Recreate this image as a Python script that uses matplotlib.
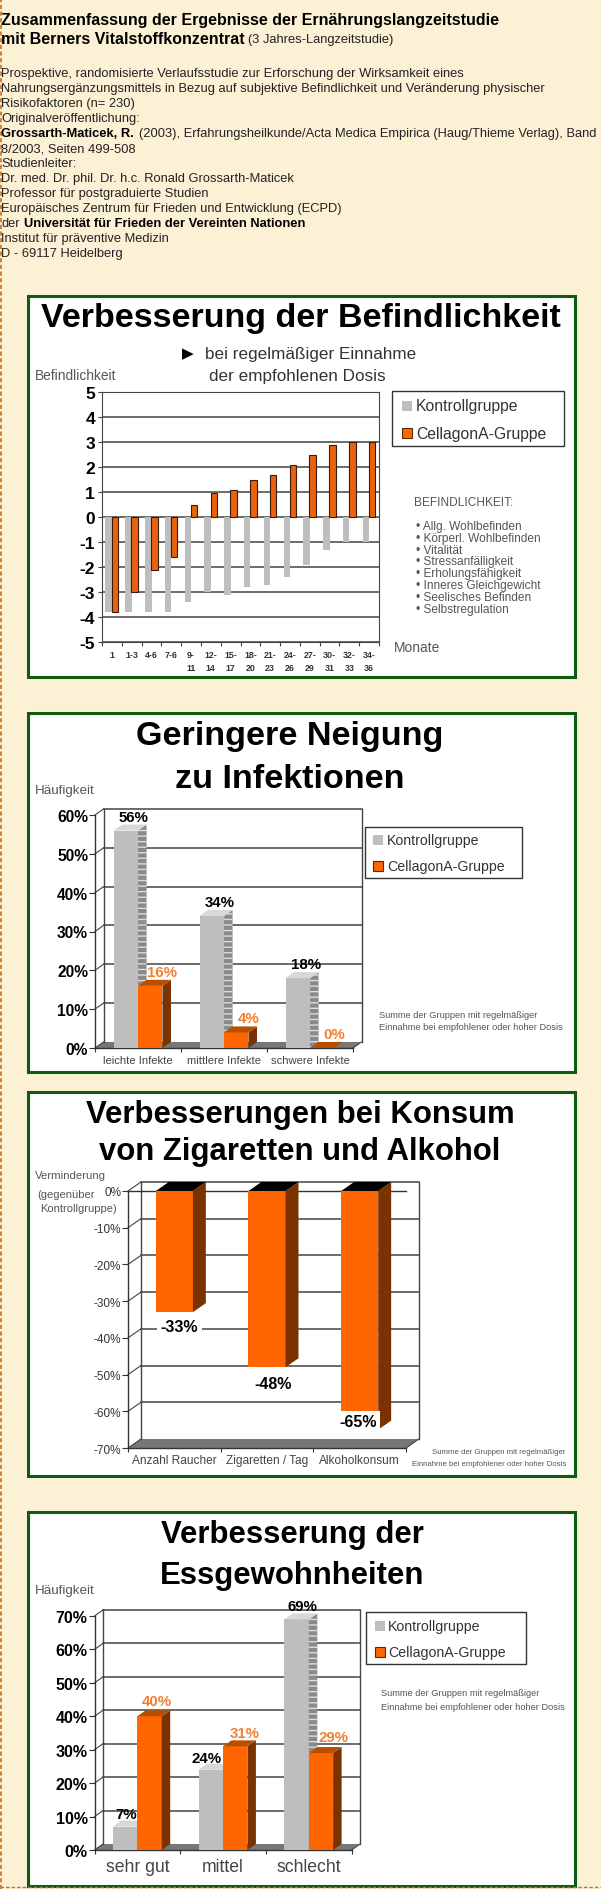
import matplotlib
matplotlib.use("Agg")
import matplotlib.pyplot as plt
from matplotlib.patches import Rectangle

plt.rcParams["font.family"] = ["Liberation Sans", "DejaVu Sans"]

W, H = 601, 1890
BG = "#FDF1D5"
GREEN = "#0E5C12"
ORANGE = "#FF6600"
ORANGE_SIDE = "#7A3300"
ORANGE_TOP = "#B84F00"
ORANGE_TXT = "#F08030"
GRAY = "#BEBEBE"
GRAY_SIDE = "#8A8A8A"
GRAY_TOP = "#D8D8D8"
LINE = "#444444"
NOTE = "#555555"

# chart 1
months = ["1", "1-3", "4-6", "7-6", "9-\n11", "12-\n14", "15-\n17", "18-\n20", "21-\n23", "24-\n26", "27-\n29", "30-\n31", "32-\n33", "34-\n36"]
befind_kontroll = [-3.8, -3.8, -3.8, -3.8, -3.4, -3.0, -3.1, -2.8, -2.7, -2.4, -1.9, -1.3, -1.0, -1.0]
befind_cellagon = [-3.8, -3.0, -2.1, -1.6, 0.5, 0.95, 1.1, 1.5, 1.7, 2.1, 2.5, 2.9, 3.0, 3.0]
befind_ticks = [-5, -4, -3, -2, -1, 0, 1, 2, 3, 4, 5]
befind_items = ["Allg. Wohlbefinden", "Körperl. Wohlbefinden", "Vitalität", "Stressanfälligkeit", "Erholungsfähigkeit", "Inneres Gleichgewicht", "Seelisches Befinden", "Selbstregulation"]

# chart 2
infekt_labels = ["leichte Infekte", "mittlere Infekte", "schwere Infekte"]
infekt_kontroll = [56, 34, 18]
infekt_cellagon = [16, 4, 0]
infekt_ticks = [0, 10, 20, 30, 40, 50, 60]

# chart 3
konsum_labels = ["Anzahl Raucher", "Zigaretten / Tag", "Alkoholkonsum"]
konsum_cellagon = [-33, -48, -65]
konsum_ticks = [0, -10, -20, -30, -40, -50, -60, -70]

# chart 4
ess_labels = ["sehr gut", "mittel", "schlecht"]
ess_kontroll = [7, 24, 69]
ess_cellagon = [40, 31, 29]
ess_ticks = [0, 10, 20, 30, 40, 50, 60, 70]

# page text
head1 = "Zusammenfassung der Ergebnisse der Ernährungslangzeitstudie"
head2 = "mit Berners Vitalstoffkonzentrat"
head2b = "(3 Jahres-Langzeitstudie)"
body_lines = [
    "Prospektive, randomisierte Verlaufsstudie zur Erforschung der Wirksamkeit eines",
    "Nahrungsergänzungsmittels in Bezug auf subjektive Befindlichkeit und Veränderung physischer",
    "Risikofaktoren (n= 230)",
    "Originalveröffentlichung:",
    "",
    "8/2003, Seiten 499-508",
    "Studienleiter:",
    "Dr. med. Dr. phil. Dr. h.c. Ronald Grossarth-Maticek",
    "Professor für postgraduierte Studien",
    "Europäisches Zentrum für Frieden und Entwicklung (ECPD)",
    "",
    "Institut für präventive Medizin",
    "D - 69117 Heidelberg",
]

fig = plt.figure(figsize=(W / 100, H / 100), dpi=100, facecolor=BG)
page = fig.add_axes([0, 0, 1, 1])
page.set_xlim(0, W)
page.set_ylim(H, 0)
page.axis("off")


def px_axes(x0, y0, x1, y1):
    ax = fig.add_axes([x0 / W, 1 - y1 / H, (x1 - x0) / W, (y1 - y0) / H])
    ax.patch.set_alpha(0)
    return ax


def txt(x, y, s, size, color="black", weight="normal", ha="left"):
    page.text(x, y, s, fontsize=size, color=color, fontweight=weight, ha=ha, va="center")


def panel(y0, y1):
    page.add_patch(Rectangle((28, y0), 547, y1 - y0, fc="white", ec=GREEN, lw=2.2))


def legend_box(x0, y0, x1, y1, px, tx, y_a, y_b, size):
    page.add_patch(Rectangle((x0, y0), x1 - x0, y1 - y0, fc="white", ec="#333333", lw=1))
    page.add_patch(Rectangle((px, y_a - 5), 10, 10, fc=GRAY, ec="none"))
    page.add_patch(Rectangle((px, y_b - 5), 10, 10, fc=ORANGE, ec="#5a2a00", lw=0.8))
    txt(tx, y_a, "Kontrollgruppe", size, "#333333")
    txt(tx, y_b, "CellagonA-Gruppe", size, "#333333")


def walls(ax, ticks, n, dx, dy):
    low = min(ticks)
    high = max(ticks)
    ax.fill([0, n, n + dx, dx], [low, low, low + dy, low + dy], color="#777777", lw=0, clip_on=False, zorder=1)
    for t in ticks:
        if t != low:
            ax.plot([dx, n + dx], [t + dy, t + dy], color=LINE, lw=1.1, clip_on=False, zorder=1)
        ax.plot([0, dx], [t, t + dy], color=LINE, lw=0.8, clip_on=False, zorder=1)
    ax.plot([dx, dx], [low + dy, high + dy], color=LINE, lw=1, clip_on=False, zorder=1)
    ax.plot([n + dx, n + dx], [low + dy, high + dy], color=LINE, lw=1, clip_on=False, zorder=1)
    ax.plot([n, n + dx], [low, low + dy], color=LINE, lw=0.8, clip_on=False, zorder=1)


def bar3d(ax, x, w, v, face, side, top, dx, dy, z, hatch=None):
    ax.bar(x, v, w, color=face, lw=0, zorder=z, clip_on=False)
    r = x + w / 2
    ax.fill([r, r + dx, r + dx, r], [0, dy, v + dy, v], facecolor=side, edgecolor="#dddddd" if hatch else "none", hatch=hatch, lw=0, zorder=z, clip_on=False)
    # the cap sits on the upper end, which is the baseline for bars hanging down
    y = max(v, 0)
    ax.fill([x - w / 2, r, r + dx, x - w / 2 + dx], [y, y, y + dy, y + dy], color=top, lw=0, zorder=z, clip_on=False)


def style_front(ax, n, ticks, labels, ysize, xsize, ytick_fmt="{}%", yweight="bold", ycolor="black", xcolor="#444444", xpad=3):
    ax.set_xlim(0, n)
    ax.set_ylim(min(ticks), max(ticks))
    for s in ["top", "right"]:
        ax.spines[s].set_visible(False)
    for s in ["left", "bottom"]:
        ax.spines[s].set_color("#333333")
        ax.spines[s].set_linewidth(1)
    ax.set_xticks(range(n + 1))
    ax.set_xticklabels([])
    ax.set_xticks([i + 0.5 for i in range(n)], minor=True)
    ax.set_xticklabels(labels, minor=True, fontsize=xsize, color=xcolor)
    ax.tick_params(axis="x", which="minor", length=0, pad=xpad)
    ax.tick_params(axis="x", which="major", length=3, color="#333333")
    ax.set_yticks(ticks)
    ax.set_yticklabels([ytick_fmt.format(t) for t in ticks], fontsize=ysize, fontweight=yweight, color=ycolor)
    ax.tick_params(axis="y", length=4, pad=1, color="#333333")


def value_label(ax, x, v, s, off, size, color):
    ax.annotate(s, (x, v), xytext=off, textcoords="offset pixels", ha="center", va="center",
                fontsize=size, fontweight="bold", color=color, zorder=10, annotation_clip=False)


# page header
page.axvline(0.6, color="#C8701A", lw=1.2, ls=(0, (2.5, 1.5)))
page.plot([0, W], [1888, 1888], color="#C8701A", lw=1, ls=(0, (2.5, 1.5)))
HEAD = 11.5
BODY = 9.3
txt(1, 21, head1, HEAD, weight="bold")
txt(1, 39, head2, HEAD, weight="bold")
txt(248, 40, head2b, BODY, "#222222")
for i, line in enumerate(body_lines):
    if line:
        txt(1, 74 + i * 15, line, BODY, "#222222")
txt(1, 134, "Grossarth-Maticek, R.", BODY, weight="bold")
txt(139, 134, "(2003), Erfahrungsheilkunde/Acta Medica Empirica (Haug/Thieme Verlag), Band", BODY, "#222222")
txt(1, 224, "der", BODY, "#222222")
txt(24, 224, "Universität für Frieden der Vereinten Nationen", BODY, weight="bold")

# chart 1
panel(297, 678)
txt(301, 319, "Verbesserung der Befindlichkeit", 24.5, weight="bold", ha="center")
page.text(188, 354, "▶", fontsize=11, family="DejaVu Sans", ha="center", va="center")
txt(205, 355, "bei regelmäßiger Einnahme", 12.3, "#333333")
txt(209, 377, "der empfohlenen Dosis", 12.3, "#333333")
txt(35, 376, "Befindlichkeit", 9.9, NOTE)
legend_box(392, 392, 564, 447, 402, 416, 407, 434, 11.3)
txt(414, 503, "BEFINDLICHKEIT:", 8.6, NOTE)
for i, item in enumerate(befind_items):
    txt(416, 527 + i * 11.8, "• " + item, 8.6, NOTE)
txt(394, 648, "Monate", 9.9, NOTE)

ax1 = px_axes(102, 393, 379, 643)
ax1.set_axisbelow(True)
ax1.yaxis.grid(True, color=LINE, lw=1.1)
pos = list(range(len(months)))
ax1.bar([p + 0.34 for p in pos], befind_kontroll, 0.33, color=GRAY, lw=0, zorder=2)
ax1.bar([p + 0.65 for p in pos], befind_cellagon, 0.33, color="#E8620F", edgecolor="#3A1C08", lw=0.8, zorder=3)
ax1.set_xlim(0, 14)
ax1.set_ylim(-5, 5)
for s in ax1.spines.values():
    s.set_color(LINE)
ax1.set_xticks(range(15))
ax1.set_xticklabels([])
ax1.set_xticks([p + 0.5 for p in pos], minor=True)
ax1.set_xticklabels(months, minor=True, fontsize=6.4, fontweight="bold", color="#333333", linespacing=1.55)
ax1.tick_params(axis="x", which="minor", length=0, pad=6)
ax1.tick_params(axis="x", which="major", length=3, color=LINE)
ax1.set_yticks(befind_ticks)
ax1.set_yticklabels(befind_ticks, fontsize=12.5, fontweight="bold")
ax1.tick_params(axis="y", length=3, pad=2, color=LINE)

# chart 2
panel(714, 1073)
txt(290, 737, "Geringere Neigung", 24.6, weight="bold", ha="center")
txt(290, 779, "zu Infektionen", 24.6, weight="bold", ha="center")
txt(35, 791, "Häufigkeit", 9.6, NOTE)
legend_box(365, 828, 522, 879, 373, 387, 841, 867, 10.2)
txt(379, 1016, "Summe der Gruppen mit regelmäßiger", 6.7, NOTE)
txt(379, 1028, "Einnahme bei empfohlener oder hoher Dosis", 6.7, NOTE)

ax2 = px_axes(95, 816, 353, 1049)
style_front(ax2, 3, infekt_ticks, infekt_labels, 11.2, 8.1, xpad=5)
walls(ax2, infekt_ticks, 3, 0.099, 1.55)
for i in range(3):
    c = i + 0.5
    bar3d(ax2, c - 0.142, 0.285, infekt_kontroll[i], GRAY, GRAY_SIDE, GRAY_TOP, 0.099, 1.55, 3, hatch="---")
    bar3d(ax2, c + 0.142, 0.285, infekt_cellagon[i], ORANGE, ORANGE_SIDE, ORANGE_TOP, 0.099, 1.55, 4)
    value_label(ax2, c - 0.142, infekt_kontroll[i], f"{infekt_kontroll[i]}%", (8, 14), 10.8, "black")
    value_label(ax2, c + 0.142, infekt_cellagon[i], f"{infekt_cellagon[i]}%", (12, 14), 10.8, ORANGE_TXT)

# chart 3
panel(1093, 1477)
txt(300, 1115, "Verbesserungen bei Konsum", 22.4, weight="bold", ha="center")
txt(300, 1152, "von Zigaretten und Alkohol", 22.4, weight="bold", ha="center")
txt(35, 1176, "Verminderung", 8.2, NOTE)
txt(37, 1195, "(gegenüber", 8, NOTE)
txt(40, 1209, "Kontrollgruppe)", 8, NOTE)
txt(566, 1453, "Summe der Gruppen mit regelmäßiger", 5.6, NOTE, ha="right")
txt(566, 1464, "Einnahme bei empfohlener oder hoher Dosis", 5.6, NOTE, ha="right")

ax3 = px_axes(128, 1192, 406, 1449)
style_front(ax3, 3, konsum_ticks, konsum_labels, 8.5, 8.6, yweight="normal", ycolor="#333333", xpad=4)
walls(ax3, konsum_ticks, 3, 0.14, 2.45)
ax3.plot([0, 3], [0, 0], color="#333333", lw=1, zorder=2, clip_on=False)
konsum_off = [(5, -14), (6, -16), (-2, 8)]
for i in range(3):
    c = i + 0.5
    bar3d(ax3, c, 0.4, konsum_cellagon[i], ORANGE, ORANGE_SIDE, "black", 0.14, 2.45, 4)
    ax3.annotate(f"{konsum_cellagon[i]}%", (c, konsum_cellagon[i]), xytext=konsum_off[i], textcoords="offset pixels",
                 ha="center", va="center", fontsize=11.5, fontweight="bold", zorder=10, annotation_clip=False,
                 bbox=dict(fc="white", ec="none", pad=2.5))

# chart 4
panel(1513, 1887)
txt(292, 1535, "Verbesserung der", 22.4, weight="bold", ha="center")
txt(292, 1576, "Essgewohnheiten", 22.4, weight="bold", ha="center")
txt(35, 1591, "Häufigkeit", 9.6, NOTE)
legend_box(366, 1613, 526, 1665, 375, 388, 1627, 1653, 10.2)
txt(381, 1694, "Summe der Gruppen mit regelmäßiger", 6.7, NOTE)
txt(381, 1707, "Einnahme bei empfohlener oder hoher Dosis", 6.7, NOTE)

ax4 = px_axes(94.5, 1617, 351.6, 1851)
style_front(ax4, 3, ess_ticks, ess_labels, 11.5, 12.7, xpad=6)
walls(ax4, ess_ticks, 3, 0.099, 1.8)
ess_off_k = [(1, 13), (-4, 12), (6, 13)]
ess_off_c = [(7, 15), (9, 13), (13, 16)]
for i in range(3):
    c = i + 0.5
    bar3d(ax4, c - 0.142, 0.285, ess_kontroll[i], GRAY, GRAY_SIDE, GRAY_TOP, 0.099, 1.8, 3, hatch="---")
    bar3d(ax4, c + 0.142, 0.285, ess_cellagon[i], ORANGE, ORANGE_SIDE, ORANGE_TOP, 0.099, 1.8, 4)
    value_label(ax4, c - 0.142, ess_kontroll[i], f"{ess_kontroll[i]}%", ess_off_k[i], 10.8, "black")
    value_label(ax4, c + 0.142, ess_cellagon[i], f"{ess_cellagon[i]}%", ess_off_c[i], 10.8, ORANGE_TXT)

fig.savefig("out.png", dpi=100, facecolor=BG)
